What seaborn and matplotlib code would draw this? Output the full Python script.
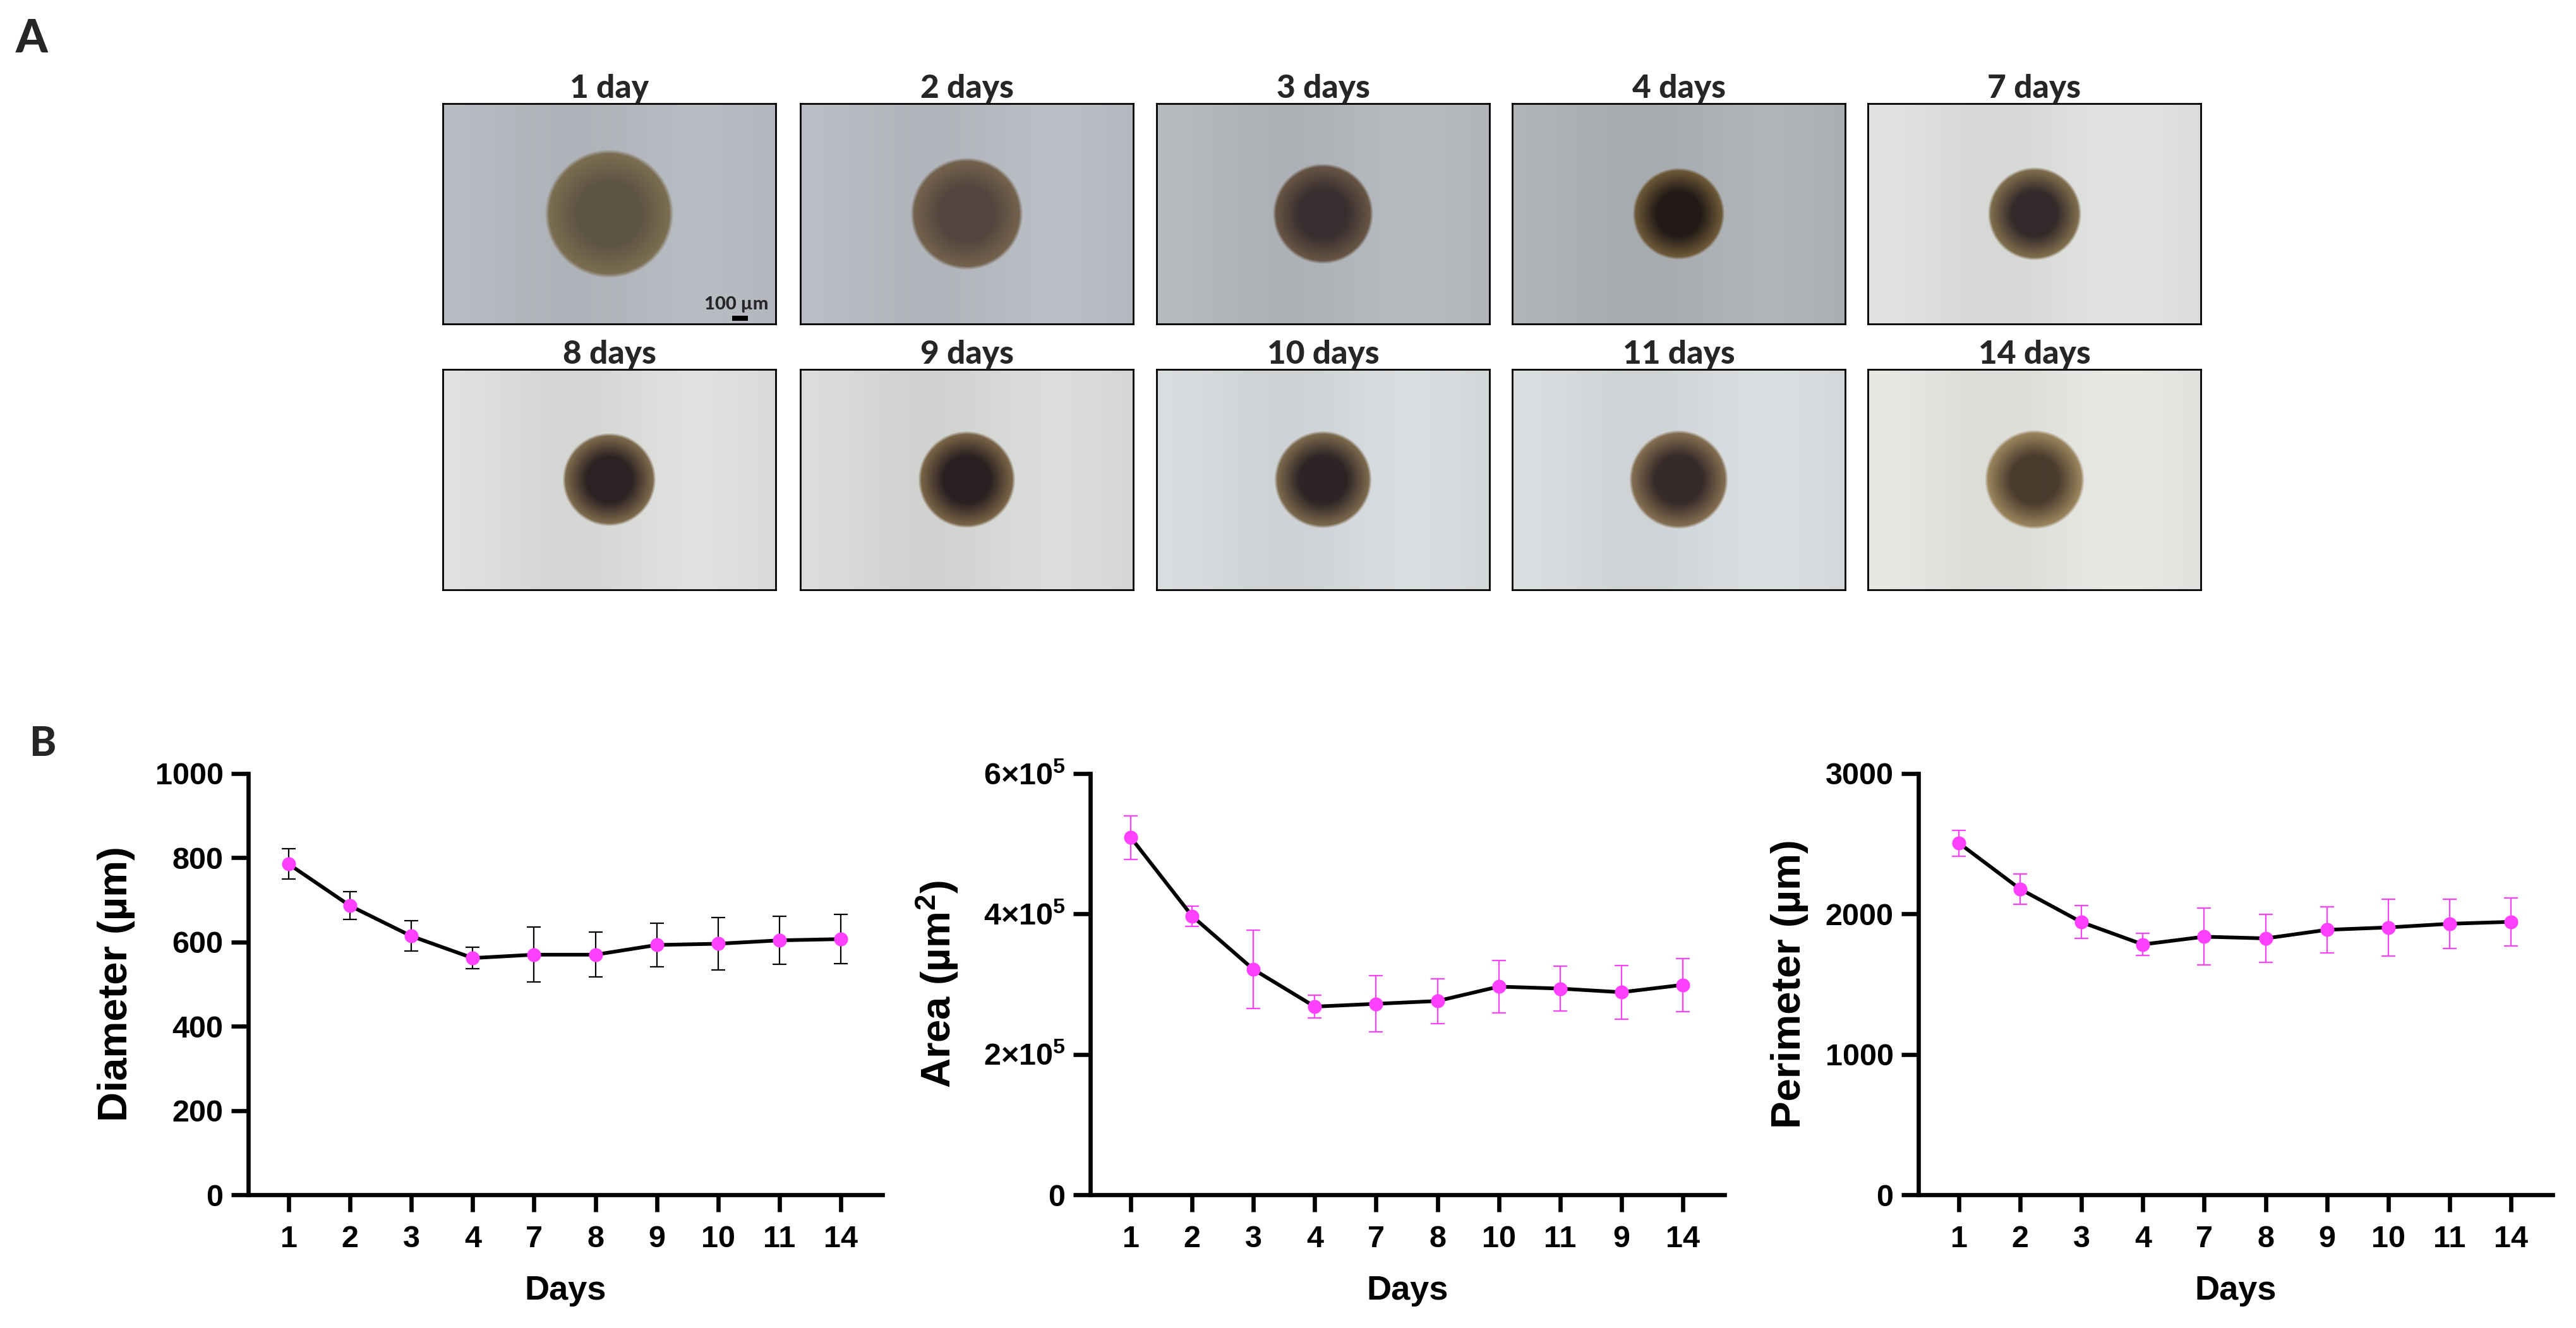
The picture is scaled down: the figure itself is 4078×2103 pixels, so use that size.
import numpy as np
import pandas as pd
import matplotlib
matplotlib.use("Agg")
import matplotlib.pyplot as plt
import seaborn as sns
from matplotlib.colors import to_rgb

# ---- data ----
days = ['1', '2', '3', '4', '7', '8', '9', '10', '11', '14']
panel_titles = ['1 day', '2 days', '3 days', '4 days', '7 days',
                '8 days', '9 days', '10 days', '11 days', '14 days']

diam_mean = [785, 686, 614, 562, 570, 570, 593, 596, 604, 607]
diam_sd = [36, 33, 36, 25, 65, 53, 52, 62, 57, 58]

area_days = ['1', '2', '3', '4', '7', '8', '10', '11', '9', '14']
area_mean = [509000, 397000, 321000, 268000, 272000, 276000, 296500, 293700, 288500, 299000]
area_sd = [31000, 14500, 56000, 16000, 40000, 32000, 37000, 31500, 38000, 37800]

perim_mean = [2505, 2177, 1941, 1783, 1838, 1826, 1887, 1904, 1930, 1944]
perim_sd = [92, 108, 117, 80, 203, 171, 164, 203, 177, 170]

# colours of the microscope pictures (background, spheroid core, spheroid rim)
bg_cols = ['#b4b8be', '#b6bac0', '#b2b6bb', '#acb0b3', '#dcdedb',
           '#dadcd9', '#d6d8d5', '#d4d8db', '#d6d9db', '#e2e3df']
core_cols = ['#5e5444', '#54463f', '#3a2f30', '#221a17', '#352a2b',
             '#2c2223', '#2a2022', '#2d2426', '#372b2a', '#4a3c2e']
rim_cols = ['#7a6c50', '#72614c', '#655444', '#6a5636', '#7c6b4b',
            '#7a6649', '#766144', '#78664b', '#806b4e', '#97815a']

MAGENTA = '#ff40ff'

sns.set_theme(style='ticks')
plt.rcParams['font.family'] = ['Liberation Sans', 'DejaVu Sans']
plt.rcParams['mathtext.fontset'] = 'custom'
plt.rcParams['mathtext.rm'] = 'Liberation Sans:bold'
plt.rcParams['mathtext.bf'] = 'Liberation Sans:bold'
plt.rcParams['mathtext.it'] = 'Liberation Sans:bold'

W_PX, H_PX, DPI = 4078, 2103, 200
fig = plt.figure(figsize=(W_PX / DPI, H_PX / DPI), dpi=DPI)
fig.patch.set_facecolor('white')

def fx(px):
    return px / W_PX

def fy(px):
    return 1 - px / H_PX

# ---- panel A: spheroid pictures, sized from the diameter data (25 px = 100 um) ----
PIC_W, PIC_H = 2108.0, 1396.0   # picture size in um
xs = np.linspace(0, PIC_W, 527)
ys = np.linspace(0, PIC_H, 349)
X, Y = np.meshgrid(xs, ys)

col_x = [701, 1267, 1831, 2394, 2957]
row_y = [164, 585]
pw, ph = 527, 349
title_font = ['Lato', 'DejaVu Sans']

for i, (title, d) in enumerate(zip(panel_titles, diam_mean)):
    r_i, c_i = divmod(i, 5)
    ax = fig.add_axes([fx(col_x[c_i]), fy(row_y[r_i] + ph), fx(pw), ph / H_PX])
    bg = np.array(to_rgb(bg_cols[i]))
    core = np.array(to_rgb(core_cols[i]))
    rim = np.array(to_rgb(rim_cols[i]))
    r = np.hypot(X - PIC_W / 2, Y - PIC_H / 2) / (d / 2)
    t = np.clip((r - 0.5) / 0.45, 0, 1)[..., None]
    body = core * (1 - t) + rim * t
    a = np.clip((1.04 - r) / 0.07, 0, 1)[..., None]
    shade = (1 + 0.025 * np.cos(X / PIC_W * 2 * np.pi * 1.3))[..., None]
    img = np.clip(body * a + bg * shade * (1 - a), 0, 1)
    ax.imshow(img, extent=(0, PIC_W, 0, PIC_H), origin='lower', aspect='auto')
    ax.set_xlim(0, PIC_W)
    ax.set_ylim(0, PIC_H)
    ax.set_xticks([])
    ax.set_yticks([])
    for s in ax.spines.values():
        s.set_visible(True)
        s.set_color('black')
        s.set_linewidth(1.0)
    ax.text(0.5, 1.025, title, transform=ax.transAxes, ha='center', va='baseline',
            fontsize=18.5, fontweight='black', family=title_font)
    if i == 0:
        ax.plot([1832, 1932], [36, 36], color='black', lw=2.9, solid_capstyle='butt')
        ax.text(1860, 92, '100 \u00b5m', ha='center', va='baseline', fontsize=10.5,
                fontweight='black', family=title_font)

fig.text(fx(25), fy(83), 'A', ha='left', va='baseline', fontsize=26,
         fontweight='black', family=title_font)
fig.text(fx(46), fy(1197), 'B', ha='left', va='baseline', fontsize=23,
         fontweight='black', family=title_font)

# ---- panel B: line plots ----
plots = [
    dict(left=393, labels=days, mean=diam_mean, sd=diam_sd, ecol='black',
         ylabel='Diameter (\u00b5m)', ylim=1000, yticks=[0, 200, 400, 600, 800, 1000],
         yticklabels=['0', '200', '400', '600', '800', '1000'], lab_x=-0.178),
    dict(left=1726, labels=area_days, mean=area_mean, sd=area_sd, ecol=MAGENTA,
         ylabel='Area (\u00b5m$^{2}$)', ylim=6e5, yticks=[0, 2e5, 4e5, 6e5],
         yticklabels=['0', r'$2{\times}10^{5}$', r'$4{\times}10^{5}$', r'$6{\times}10^{5}$'],
         lab_x=-0.205),
    dict(left=3037, labels=days, mean=perim_mean, sd=perim_sd, ecol=MAGENTA,
         ylabel='Perimeter (\u00b5m)', ylim=3000, yticks=[0, 1000, 2000, 3000],
         yticklabels=['0', '1000', '2000', '3000'], lab_x=-0.173),
]

AX_W = 1004
for p in plots:
    ax = fig.add_axes([fx(p['left']), fy(1892), fx(AX_W), (1892 - 1225) / H_PX])
    df = pd.DataFrame({'pos': np.arange(len(p['labels'])), 'mean': p['mean'], 'sd': p['sd']})
    ax.errorbar(df['pos'], df['mean'], yerr=df['sd'], fmt='none', ecolor=p['ecol'],
                elinewidth=0.8, capsize=4, capthick=0.8, zorder=2, clip_on=False)
    sns.lineplot(data=df, x='pos', y='mean', ax=ax, color='black', linewidth=2.1,
                 marker='o', markersize=7.2, markerfacecolor=MAGENTA,
                 markeredgecolor=MAGENTA, zorder=3, clip_on=False)
    ax.set_xlim(-0.66, len(p['labels']) - 1 + 0.68)
    ax.set_ylim(0, p['ylim'])
    ax.set_xticks(df['pos'])
    ax.set_xticklabels(p['labels'])
    ax.set_yticks(p['yticks'])
    ax.set_yticklabels(p['yticklabels'])
    sns.despine(ax=ax)
    for s in ['left', 'bottom']:
        ax.spines[s].set_linewidth(2.4)
        ax.spines[s].set_color('black')
    ax.tick_params(axis='both', length=9.7, width=2.4, color='black',
                   labelsize=17.5, labelcolor='black')
    ax.tick_params(axis='x', pad=7.5)
    ax.tick_params(axis='y', pad=4.5)
    for lab in ax.get_xticklabels() + ax.get_yticklabels():
        lab.set_fontweight('bold')
    ax.set_xlabel('Days', fontsize=19.5, fontweight='bold', color='black')
    ax.xaxis.set_label_coords(0.5, -0.19)
    ax.set_ylabel(p['ylabel'], fontsize=23.5, fontweight='bold', color='black')
    ax.yaxis.set_label_coords(p['lab_x'], 0.5)
    ax.set_facecolor('white')
    ax.grid(False)

fig.savefig('out.png', dpi=DPI, facecolor='white')
